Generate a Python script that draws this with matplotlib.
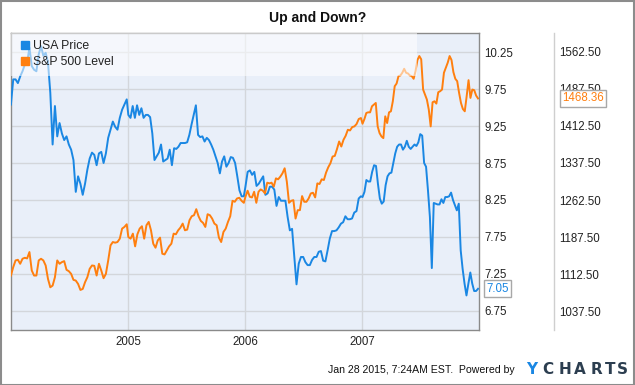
import numpy as np
import pandas as pd
import matplotlib
matplotlib.use("Agg")
import matplotlib.pyplot as plt
from matplotlib.lines import Line2D
from matplotlib.patches import Rectangle

plt.rcParams['font.family'] = ['Liberation Sans', 'DejaVu Sans']

# weekly closes, one list per calendar year
usa_2004 = [9.54, 9.88, 9.88, 9.83, 9.92, 9.99, 10.08, 10.11, 10.31, 10.06, 10.01, 9.99, 10.22,
            10.33, 10.20, 10.24, 10.11, 9.70, 9.00, 9.52, 9.11, 9.29, 9.15, 9.06, 9.11, 9.00,
            8.93, 8.79, 8.36, 8.57, 8.47, 8.32, 8.47, 8.66, 8.81, 8.89, 8.86, 8.72, 8.88, 8.90,
            8.75, 8.88, 9.09, 9.20, 9.31, 9.24, 9.20, 9.36, 9.47, 9.54, 9.61]
usa_2005 = [9.40, 9.36, 9.52, 9.36, 9.53, 9.40, 9.49, 9.36, 9.40, 9.40, 9.37, 9.15, 8.79,
            8.84, 8.89, 9.00, 8.77, 8.79, 8.81, 8.93, 8.72, 8.95, 8.94, 8.97, 9.02, 9.02,
            9.02, 9.03, 9.13, 9.27, 9.40, 9.53, 9.13, 9.10, 9.11, 9.04, 9.09, 9.06, 9.00,
            8.93, 8.84, 8.75, 8.61, 8.77, 8.84, 8.70, 8.75, 8.83, 8.82, 8.75, 8.57, 8.38,
            8.30, 8.30]
usa_2006 = [8.43, 8.63, 8.65, 8.59, 8.63, 8.44, 8.47, 8.52, 8.57, 8.32, 8.34, 8.43, 8.43,
            8.39, 8.17, 8.29, 8.24, 8.24, 8.24, 8.02, 7.84, 7.86, 7.48, 7.11, 7.39, 7.48,
            7.48, 7.41, 7.37, 7.37, 7.44, 7.48, 7.48, 7.55, 7.56, 7.43, 7.42, 7.57, 7.73,
            7.83, 7.83, 7.84, 7.88, 7.93, 7.95, 8.03, 7.99, 7.99, 8.00, 8.08, 8.10, 8.27,
            8.30]
usa_2007 = [8.29, 8.36, 8.52, 8.50, 8.50, 8.63, 8.72, 8.71, 8.47, 8.27, 8.20, 8.23, 8.45,
            8.57, 8.61, 8.62, 8.75, 8.88, 8.97, 9.00, 9.00, 8.93, 8.97, 9.05, 8.97, 8.94,
            8.97, 9.00, 8.98, 9.03, 9.14, 9.12, 8.75, 8.70, 8.38, 8.02, 7.33, 8.21, 8.20,
            8.19, 8.19, 8.26, 8.21, 8.29, 8.29, 8.30, 8.35, 8.25, 8.18, 8.11, 8.20, 7.57,
            7.32, 7.12, 6.96, 7.12, 7.27, 7.12, 7.02, 7.02, 7.05]

sp_2004 = [1109.4, 1126.4, 1140.0, 1141.3, 1133.2, 1143.4, 1145.4, 1144.1, 1157.0, 1119.6,
           1109.4, 1109.4, 1140.0, 1143.4, 1140.0, 1129.8, 1102.6, 1085.6, 1089.0, 1106.0,
           1140.0, 1133.2, 1136.6, 1138.6, 1121.0, 1118.2, 1112.8, 1100.6, 1099.2, 1092.4,
           1080.2, 1082.2, 1095.8, 1106.0, 1123.0, 1129.8, 1129.1, 1109.4, 1133.2, 1119.6,
           1104.0, 1112.8, 1140.0, 1170.5, 1177.3, 1176.0, 1177.3, 1184.1, 1204.5, 1207.9,
           1213.3]
sp_2005 = [1187.5, 1184.1, 1194.3, 1168.5, 1193.0, 1204.5, 1209.3, 1184.1, 1211.3, 1218.1,
           1201.1, 1173.9, 1165.8, 1180.7, 1186.2, 1153.6, 1152.2, 1160.4, 1168.5, 1173.9,
           1194.3, 1193.0, 1201.1, 1206.5, 1214.7, 1201.1, 1202.5, 1221.5, 1229.6, 1231.7,
           1243.9, 1229.6, 1220.1, 1216.1, 1207.9, 1233.7, 1231.7, 1224.9, 1214.7, 1211.3,
           1186.2, 1177.3, 1197.7, 1204.5, 1218.1, 1229.6, 1260.9, 1258.9, 1265.6, 1267.0,
           1260.9, 1256.8]
sp_2006 = [1269.0, 1281.3, 1269.0, 1267.7, 1279.2, 1256.8, 1279.2, 1284.0, 1281.3, 1275.8,
           1297.6, 1296.2, 1297.6, 1289.4, 1306.4, 1304.4, 1309.8, 1316.6, 1326.8, 1299.6,
           1256.8, 1260.9, 1262.2, 1224.9, 1241.9, 1241.9, 1270.4, 1258.9, 1258.9, 1265.6,
           1275.8, 1277.2, 1267.7, 1296.2, 1294.9, 1304.4, 1303.0, 1318.0, 1328.8, 1337.0,
           1350.6, 1351.9, 1365.5, 1381.1, 1370.9, 1384.5, 1392.7, 1404.9, 1403.5, 1410.3,
           1411.7, 1416.5, 1426.6, 1428.7]
sp_2007 = [1417.1, 1426.6, 1438.9, 1440.2, 1440.2, 1452.5, 1455.8, 1459.2, 1411.7, 1398.1,
           1391.3, 1387.9, 1432.1, 1418.5, 1440.2, 1442.3, 1462.6, 1493.2, 1498.6, 1513.6,
           1514.9, 1520.4, 1528.5, 1520.4, 1519.0, 1514.9, 1513.6, 1508.2, 1523.8, 1546.2,
           1554.3, 1547.6, 1486.4, 1476.2, 1466.0, 1445.7, 1411.7, 1460.6, 1462.6, 1457.9,
           1481.0, 1483.0, 1486.4, 1520.4, 1530.6, 1540.8, 1554.3, 1546.2, 1521.7, 1508.2,
           1503.4, 1479.6, 1459.2, 1447.0, 1442.3, 1472.8, 1505.4, 1469.4, 1486.4, 1485.1,
           1474.2, 1468.36]

usa_ticks = [6.75, 7.25, 7.75, 8.25, 8.75, 9.25, 9.75, 10.25]
sp_ticks = [1037.5, 1112.5, 1187.5, 1262.5, 1337.5, 1412.5, 1487.5, 1562.5]
year_ticks = ['2005', '2006', '2007']

BLUE = '#1a87e3'
ORANGE = '#ff7f0f'


def yearly(series_by_year):
    parts = []
    for yr, vals in series_by_year.items():
        idx = pd.date_range(f'{yr}-01-02', f'{yr}-12-28', periods=len(vals))
        parts.append(pd.Series(vals, index=idx))
    return pd.concat(parts)


usa = yearly({2004: usa_2004, 2005: usa_2005, 2006: usa_2006, 2007: usa_2007})
sp = yearly({2004: sp_2004, 2005: sp_2005, 2006: sp_2006, 2007: sp_2007})

fig = plt.figure(figsize=(6.35, 3.85), dpi=100)
W, H = 635, 385
ax = fig.add_axes([10.6 / W, 1 - 330 / H, (479.3 - 10.6) / W, (330 - 33) / H])
ax.set_facecolor('#e9eff9')
ax2 = ax.twinx()

ax.plot(usa.index, usa.values, color=BLUE, lw=1.4, zorder=3)
ax2.plot(sp.index, sp.values, color=ORANGE, lw=1.4, zorder=3)

ax.set_xlim(pd.Timestamp('2004-01-01'), pd.Timestamp('2008-01-01'))
ax.set_ylim(6.493, 10.507)
ax2.set_ylim(999.0, 1601.0)

ax.set_xticks([pd.Timestamp(f'{y}-01-01') for y in year_ticks])
ax.set_xticklabels(year_ticks)
ax.set_yticks(usa_ticks)
ax.set_yticklabels([f'{v:.2f}' for v in usa_ticks])
ax.yaxis.tick_right()
ax2.set_yticks(sp_ticks)
ax2.set_yticklabels([f'{v:.2f}' for v in sp_ticks])

ax.tick_params(axis='x', length=0, pad=4, labelsize=8.3, colors='#222222')
ax.tick_params(axis='y', length=0, pad=3.5, labelsize=8.3, colors='#222222')
ax2.tick_params(axis='y', length=0, pad=3.5, labelsize=8.3, colors='#222222')

ax.grid(True, color='#d3d6db', lw=1)
ax.set_axisbelow(True)

for s in ax.spines.values():
    s.set_color('#8a8a8a')
    s.set_linewidth(1)
for k in ['left', 'top', 'bottom']:
    ax2.spines[k].set_visible(False)
# separator line sits 75 px right of the plot (outward is in points)
ax2.spines['right'].set_position(('outward', 75 * 72 / 100))
ax2.spines['right'].set_color('#cfcfcf')
ax2.spines['right'].set_linewidth(1)

# translucent legend panel across the top of the plot
ax2.add_patch(Rectangle((0, 0.855), 0.867, 0.145, transform=ax2.transAxes,
                        facecolor='white', alpha=0.55, edgecolor='none', zorder=5))
handles = [Line2D([], [], ls='none', marker='s', ms=6, color=BLUE),
           Line2D([], [], ls='none', marker='s', ms=6, color=ORANGE)]
leg = ax2.legend(handles, ['USA Price', 'S&P 500 Level'], loc='upper left',
                 bbox_to_anchor=(21 / W, 1 - 40 / H), bbox_transform=fig.transFigure,
                 frameon=False, fontsize=8.8, handlelength=0.7, handletextpad=0.3,
                 labelspacing=0.35, borderaxespad=0, borderpad=0)
leg.set_zorder(6)
for t in leg.get_texts():
    t.set_color('#222222')

# last-value tags
ax.annotate(f'{usa.iloc[-1]:.2f}', xy=(1, usa.iloc[-1]), xycoords=('axes fraction', 'data'),
            xytext=(7, 0), textcoords='offset pixels', ha='left', va='center',
            fontsize=8.3, color=BLUE, annotation_clip=False,
            bbox=dict(boxstyle='square,pad=0.2', fc='white', ec='#a8a8a8', lw=1))
ax2.annotate(f'{sp.iloc[-1]:.2f}', xy=(1, sp.iloc[-1]), xycoords=('axes fraction', 'data'),
             xytext=(83, 0), textcoords='offset pixels', ha='left', va='center',
             fontsize=8.3, color=ORANGE, annotation_clip=False, zorder=10,
             bbox=dict(boxstyle='square,pad=0.2', fc='white', ec='#a8a8a8', lw=1))

fig.text(0.5, 1 - 18 / H, 'Up and Down?', ha='center', va='center',
         fontsize=10, fontweight='bold', color='#111111')
fig.text(515 / W, 1 - 370 / H, 'Jan 28 2015, 7:24AM EST.  Powered by', ha='right',
         va='center', fontsize=7.6, color='#111111')
logo_x = [531.5, 547.5, 564.5, 580, 596, 610, 622]
for ch, x in zip('YCHARTS', logo_x):
    fig.text(x / W, 1 - 370 / H, ch, ha='center', va='center', fontsize=11,
             fontweight='bold', family='DejaVu Sans',
             color=BLUE if ch == 'Y' else '#2c3e50')

fig.patches.append(Rectangle((0.001, 0.001), 0.997, 0.997, transform=fig.transFigure,
                             fill=False, ec='#8c8c8c', lw=1.5))

fig.savefig('out.png', dpi=100)
